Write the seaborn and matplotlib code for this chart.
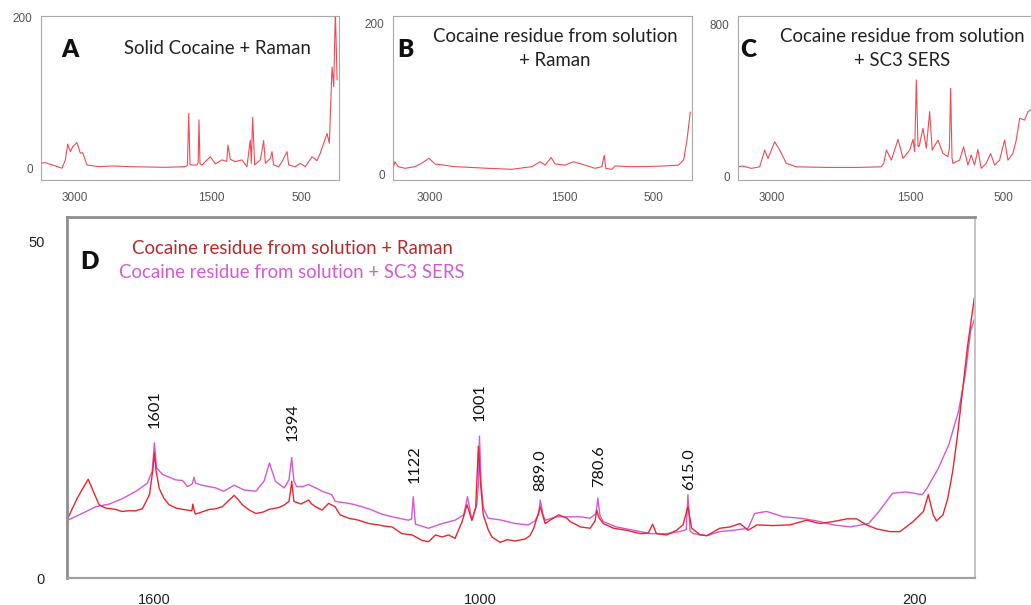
import numpy as np
import matplotlib
matplotlib.use("Agg")
import matplotlib.pyplot as plt
import seaborn as sns

# ---------------- data ----------------
# Panel A: Solid Cocaine + Raman
a_wn = [3385, 3324, 3213, 3140, 3103, 3077, 3048, 3022, 2975, 2938,
        2912, 2865, 2736, 2589, 2369, 2001, 1781, 1758, 1744, 1730,
        1715, 1653, 1640, 1631, 1620, 1598, 1506, 1451, 1378, 1325,
        1312, 1286, 1231, 1158, 1103, 1066, 1055, 1040, 1018, 955,
        919, 900, 845, 827, 809, 754, 717, 662, 643, 570,
        515, 460, 386, 331, 295, 221, 195, 166, 147, 129,
        110]
a_int = [7.5, 8.4, 4.0, 1.0, 12.0, 33.0, 23.0, 29.5, 35.0, 21.0,
         21.6, 5.3, 3.0, 4.0, 3.0, 2.2, 3.0, 5.0, 73.7, 6.0,
         5.3, 5.3, 8.0, 65.0, 7.0, 5.3, 16.3, 6.6, 12.0, 10.0,
         31.8, 12.8, 9.7, 12.0, 3.0, 38.4, 7.5, 68.5, 5.3, 12.0,
         37.5, 7.5, 14.0, 23.0, 5.3, 3.0, 9.7, 23.0, 5.3, 3.0,
         7.5, 3.0, 16.3, 11.0, 21.0, 47.0, 34.0, 135.0, 109.0, 210.0,
         118.0]

# Panel B: Cocaine residue from solution + Raman
b_wn = [3420, 3383, 3346, 3271, 3160, 3086, 3003, 2936, 2713, 2341,
        2081, 1858, 1765, 1710, 1643, 1598, 1487, 1395, 1264, 1153,
        1078, 1052, 1034, 967, 930, 781, 595, 372, 223, 167,
        130, 93]
b_int = [0, 17.5, 11, 8.8, 11, 15.4, 22, 14.5, 11, 8.8,
         7.5, 11, 17.5, 13, 23, 14.5, 13, 17.5, 13, 8.8,
         11, 26, 8.8, 7.5, 12, 11, 11, 12, 13, 20,
         46, 83]

# Panel C: Cocaine residue from solution + SC3 SERS
c_wn = [3386, 3314, 3224, 3133, 3079, 3043, 2971, 2917, 2845, 2737,
        2412, 2051, 1817, 1791, 1762, 1708, 1636, 1582, 1509, 1474,
        1456, 1438, 1420, 1409, 1366, 1330, 1294, 1266, 1204, 1150,
        1096, 1080, 1067, 1052, 1042, 970, 927, 880, 844, 808,
        772, 736, 682, 634, 591, 537, 483, 447, 393, 357,
        320, 266, 230, 170]
c_int = [52, 56, 44, 52, 140, 96, 183, 140, 70, 52,
         49, 49, 52, 70, 140, 87, 196, 96, 140, 196,
         131, 507, 160, 157, 254, 149, 341, 140, 192, 123,
         105, 150, 463, 100, 70, 87, 157, 61, 114, 61,
         143, 44, 70, 122, 61, 87, 192, 87, 122, 192,
         306, 297, 341, 360]

# Panel D: Raman (red)
d_raman_wn = [1760, 1742, 1722, 1711, 1702, 1690, 1671, 1660, 1647, 1635,
              1622, 1609, 1603, 1600, 1597, 1591, 1582, 1573, 1560, 1548,
              1531, 1529, 1526, 1524, 1510, 1499, 1487, 1475, 1462, 1453,
              1445, 1438, 1425, 1413, 1400, 1389, 1370, 1360, 1352, 1349,
              1347, 1345, 1343, 1330, 1316, 1310, 1303, 1291, 1279, 1267,
              1258, 1242, 1224, 1205, 1187, 1175, 1162, 1144, 1125, 1107,
              1095, 1082, 1070, 1058, 1046, 1033, 1024, 1015, 1008, 1003,
              999, 994, 985, 978, 963, 950, 935, 917, 908, 901,
              889, 880, 871, 855, 840, 834, 815, 797, 788, 785,
              781, 773, 754, 730, 705, 690, 682, 675, 656, 638,
              626, 617, 610, 594, 582, 558, 539, 521, 506, 490,
              460, 429, 398, 374, 349, 324, 306, 288, 269, 245,
              226, 202, 183, 174, 165, 159, 147, 138, 129, 120,
              111, 102, 89]
d_raman_int = [8.8, 11.9, 14.7, 12.6, 10.9, 10.4, 10.2, 9.9, 10.0, 10.0,
               10.3, 12.4, 16.0, 18.6, 16.0, 13.3, 11.8, 10.9, 10.4, 10.2,
               10.0, 11.0, 9.8, 9.5, 9.9, 10.2, 10.3, 10.6, 11.6, 12.3,
               11.6, 10.9, 10.1, 9.6, 9.8, 10.2, 10.5, 10.9, 11.4, 13.0,
               14.4, 13.0, 11.4, 11.0, 11.6, 11.0, 10.6, 10.1, 11.1, 10.6,
               9.4, 8.9, 8.6, 8.1, 7.9, 7.7, 7.6, 6.6, 6.4, 5.6,
               5.4, 6.4, 6.1, 6.4, 5.9, 8.4, 10.9, 8.6, 10.5, 19.6,
               14.0, 9.4, 7.2, 6.1, 5.3, 5.7, 5.5, 5.8, 6.3, 7.4,
               10.6, 8.1, 8.6, 9.4, 8.9, 8.4, 7.6, 7.4, 8.5, 10.1,
               9.0, 8.1, 7.4, 7.1, 6.6, 6.7, 8.0, 6.6, 6.4, 7.1,
               7.9, 10.6, 7.4, 6.4, 6.3, 7.4, 7.6, 8.1, 7.1, 7.9,
               7.8, 7.9, 8.6, 8.1, 8.4, 8.8, 8.8, 7.9, 7.3, 6.9,
               6.9, 8.4, 9.9, 12.4, 9.4, 8.5, 9.4, 11.9, 15.9, 21.4,
               27.8, 34.3, 41.8]

# Panel D: SC3 SERS (magenta)
d_sers_wn = [1760, 1733, 1708, 1683, 1659, 1634, 1613, 1604, 1600, 1596,
             1585, 1561, 1548, 1539, 1530, 1527, 1524, 1512, 1487, 1472,
             1453, 1435, 1413, 1398, 1388, 1377, 1361, 1352, 1347, 1343,
             1338, 1327, 1316, 1300, 1291, 1273, 1267, 1242, 1230, 1205,
             1181, 1156, 1132, 1126, 1123, 1119, 1095, 1070, 1046, 1030,
             1023, 1015, 1006, 1003, 1001, 998, 994, 985, 960, 935,
             911, 899, 892, 889, 884, 880, 859, 840, 815, 797,
             786, 783, 779, 773, 749, 717, 687, 656, 632, 620,
             617, 613, 607, 582, 558, 533, 506, 494, 472, 441,
             410, 380, 349, 318, 284, 265, 240, 216, 185, 176,
             155, 136, 118, 106, 96, 89]
d_sers_int = [8.6, 9.6, 10.6, 11.0, 11.8, 12.9, 14.1, 15.9, 20.1, 16.4,
              15.4, 14.6, 14.5, 13.6, 14.0, 15.0, 14.1, 13.8, 13.4, 12.9,
              13.8, 13.1, 12.9, 14.4, 17.1, 14.4, 13.4, 14.6, 17.9, 14.5,
              13.6, 13.6, 13.9, 13.3, 12.9, 12.4, 11.4, 11.1, 10.9, 10.3,
              9.5, 9.0, 8.6, 8.8, 12.1, 8.0, 7.4, 8.1, 8.6, 9.4,
              12.1, 8.6, 10.9, 14.0, 21.1, 14.0, 10.4, 8.9, 8.6, 8.1,
              7.9, 8.5, 9.4, 11.6, 9.4, 8.6, 9.1, 9.1, 9.1, 8.9,
              9.6, 11.9, 9.3, 8.4, 7.6, 7.1, 6.6, 6.6, 6.9, 7.2,
              12.4, 7.0, 6.6, 6.3, 6.9, 7.1, 7.4, 9.6, 9.9, 9.1,
              8.9, 8.5, 7.9, 7.6, 8.1, 9.9, 12.6, 12.8, 12.4, 13.4,
              16.4, 19.9, 24.9, 30.3, 36.8, 38.5]

# Peak annotations in panel D
peak_labels = ["1601", "1394", "1122", "1001", "889.0", "780.6", "615.0"]
peak_label_x = [1600, 1346, 1121, 1000, 889, 781, 615]
peak_label_y = [22.3, 20.4, 14.2, 23.4, 13.0, 13.5, 13.1]

top_xticks = [3000, 2500, 2000, 1500, 1000, 500]
top_xticklabels = ["3000", "", "", "1500", "", "500"]
d_xticks = [1600, 1400, 1200, 1000, 800, 600, 400, 200]
d_xticklabels = ["1600", "", "", "1000", "", "", "", "200"]
d_yticks = list(np.linspace(0, 50, 7))
d_yticklabels = ["0", "", "", "", "", "", "50"]

# ---------------- styling ----------------
for xs, ys in [(a_wn, a_int), (b_wn, b_int), (c_wn, c_int),
               (d_raman_wn, d_raman_int), (d_sers_wn, d_sers_int)]:
    assert len(xs) == len(ys), (len(xs), len(ys))

sns.set_style("white")
plt.rcParams['font.family'] = ['Lato', 'DejaVu Sans']

W, H = 1031, 605
fig = plt.figure(figsize=(W / 100, H / 100), dpi=100)

TOP_RED = "#EF4B55"
D_RED = "#E8262E"
D_MAG = "#D657D6"
TICK_FONT = ['Liberation Sans', 'DejaVu Sans']


def px_axes(l, t, r, b):
    return fig.add_axes([l / W, 1 - b / H, (r - l) / W, (b - t) / H])


def ftext(x, y, s, **kw):
    fig.text(x / W, 1 - y / H, s, **kw)


def top_panel(box, wn, inten, xlim, ylim, ytop):
    ax = px_axes(*box)
    sns.lineplot(x=wn, y=inten, ax=ax, color=TOP_RED, linewidth=0.8,
                 sort=False, estimator=None)
    ax.set_xlim(*xlim)
    ax.set_ylim(*ylim)
    ax.set_xticks(top_xticks)
    ax.set_xticklabels(top_xticklabels)
    ax.set_yticks([0, ytop])
    ax.set_yticklabels(["0", str(ytop)])
    for lab in ax.get_xticklabels() + ax.get_yticklabels():
        lab.set_family(TICK_FONT)
        lab.set_fontsize(8.5)
        lab.set_color("#555555")
    ax.tick_params(axis='x', length=2.5, width=0.6, color="#BBBBBB",
                   pad=6, direction='out')
    ax.tick_params(axis='y', length=0, pad=6)
    for sp in ax.spines.values():
        sp.set_visible(True)
        sp.set_color("#A8A8A8")
        sp.set_linewidth(0.8)
    ax.set_xlabel("")
    ax.set_ylabel("")
    return ax


top_panel((41, 16, 339, 180), a_wn, a_int, (3371, 89), (-14.6, 202.6), 200)
top_panel((393, 16, 692, 180), b_wn, b_int, (3404, 74), (-6.6, 209.6), 200)
top_panel((738, 16, 1042, 180), c_wn, c_int, (3368, 78), (-17, 842), 800)

TITLE_FS = 13.4
LETTER_KW = dict(fontsize=17.5, fontweight='heavy', ha='center', va='center', color="#111111")
ftext(70, 50, "A", **LETTER_KW)
ftext(217, 48, "Solid Cocaine + Raman", fontsize=TITLE_FS, ha='center', va='center', color="#222222")
ftext(405, 50, "B", **LETTER_KW)
ftext(555, 36, "Cocaine residue from solution", fontsize=TITLE_FS, ha='center', va='center', color="#222222")
ftext(555, 61, "+ Raman", fontsize=TITLE_FS, ha='center', va='center', color="#222222")
ftext(748, 50, "C", **LETTER_KW)
ftext(902, 36, "Cocaine residue from solution", fontsize=TITLE_FS, ha='center', va='center', color="#222222")
ftext(902, 61, "+ SC3 SERS", fontsize=TITLE_FS, ha='center', va='center', color="#222222")

# ---------------- panel D ----------------
axd = px_axes(67, 217, 975, 578)
sns.lineplot(x=d_sers_wn, y=d_sers_int, ax=axd, color=D_MAG, linewidth=1.0,
             sort=False, estimator=None)
sns.lineplot(x=d_raman_wn, y=d_raman_int, ax=axd, color=D_RED, linewidth=1.0,
             sort=False, estimator=None)
axd.set_xlim(1761, 88)
axd.set_ylim(0, 53.7)
axd.set_xticks(d_xticks)
axd.set_xticklabels(d_xticklabels)
axd.set_yticks(d_yticks)
axd.set_yticklabels(d_yticklabels)
for lab in axd.get_xticklabels() + axd.get_yticklabels():
    lab.set_family(TICK_FONT)
    lab.set_fontsize(10.5)
    lab.set_color("#222222")
axd.tick_params(axis='x', length=3.5, width=0.8, color="#999999", pad=7, direction='out')
axd.tick_params(axis='y', length=9, width=0.8, color="#999999", pad=7, direction='out')
axd.set_xlabel("")
axd.set_ylabel("")
for name, sp in axd.spines.items():
    sp.set_visible(True)
    sp.set_color("#8E8E8E")
    sp.set_linewidth(2.0)
axd.spines['right'].set_color("#C4C4C4")
axd.spines['right'].set_linewidth(1.4)
axd.spines['bottom'].set_linewidth(1.6)
axd.spines['bottom'].set_color("#A0A0A0")

for lab, px, py in zip(peak_labels, peak_label_x, peak_label_y):
    axd.text(px, py, lab, rotation=90, ha='center', va='bottom',
             fontsize=11.8, color="#111111")

ftext(89, 262, "D", **LETTER_KW)
ftext(292, 248, "Cocaine residue from solution + Raman", fontsize=TITLE_FS,
      color="#B82A2A", ha='center', va='center')
ftext(292, 272, "Cocaine residue from solution + SC3 SERS", fontsize=TITLE_FS,
      color="#D45AD4", ha='center', va='center')

fig.savefig("out.png", dpi=100)
